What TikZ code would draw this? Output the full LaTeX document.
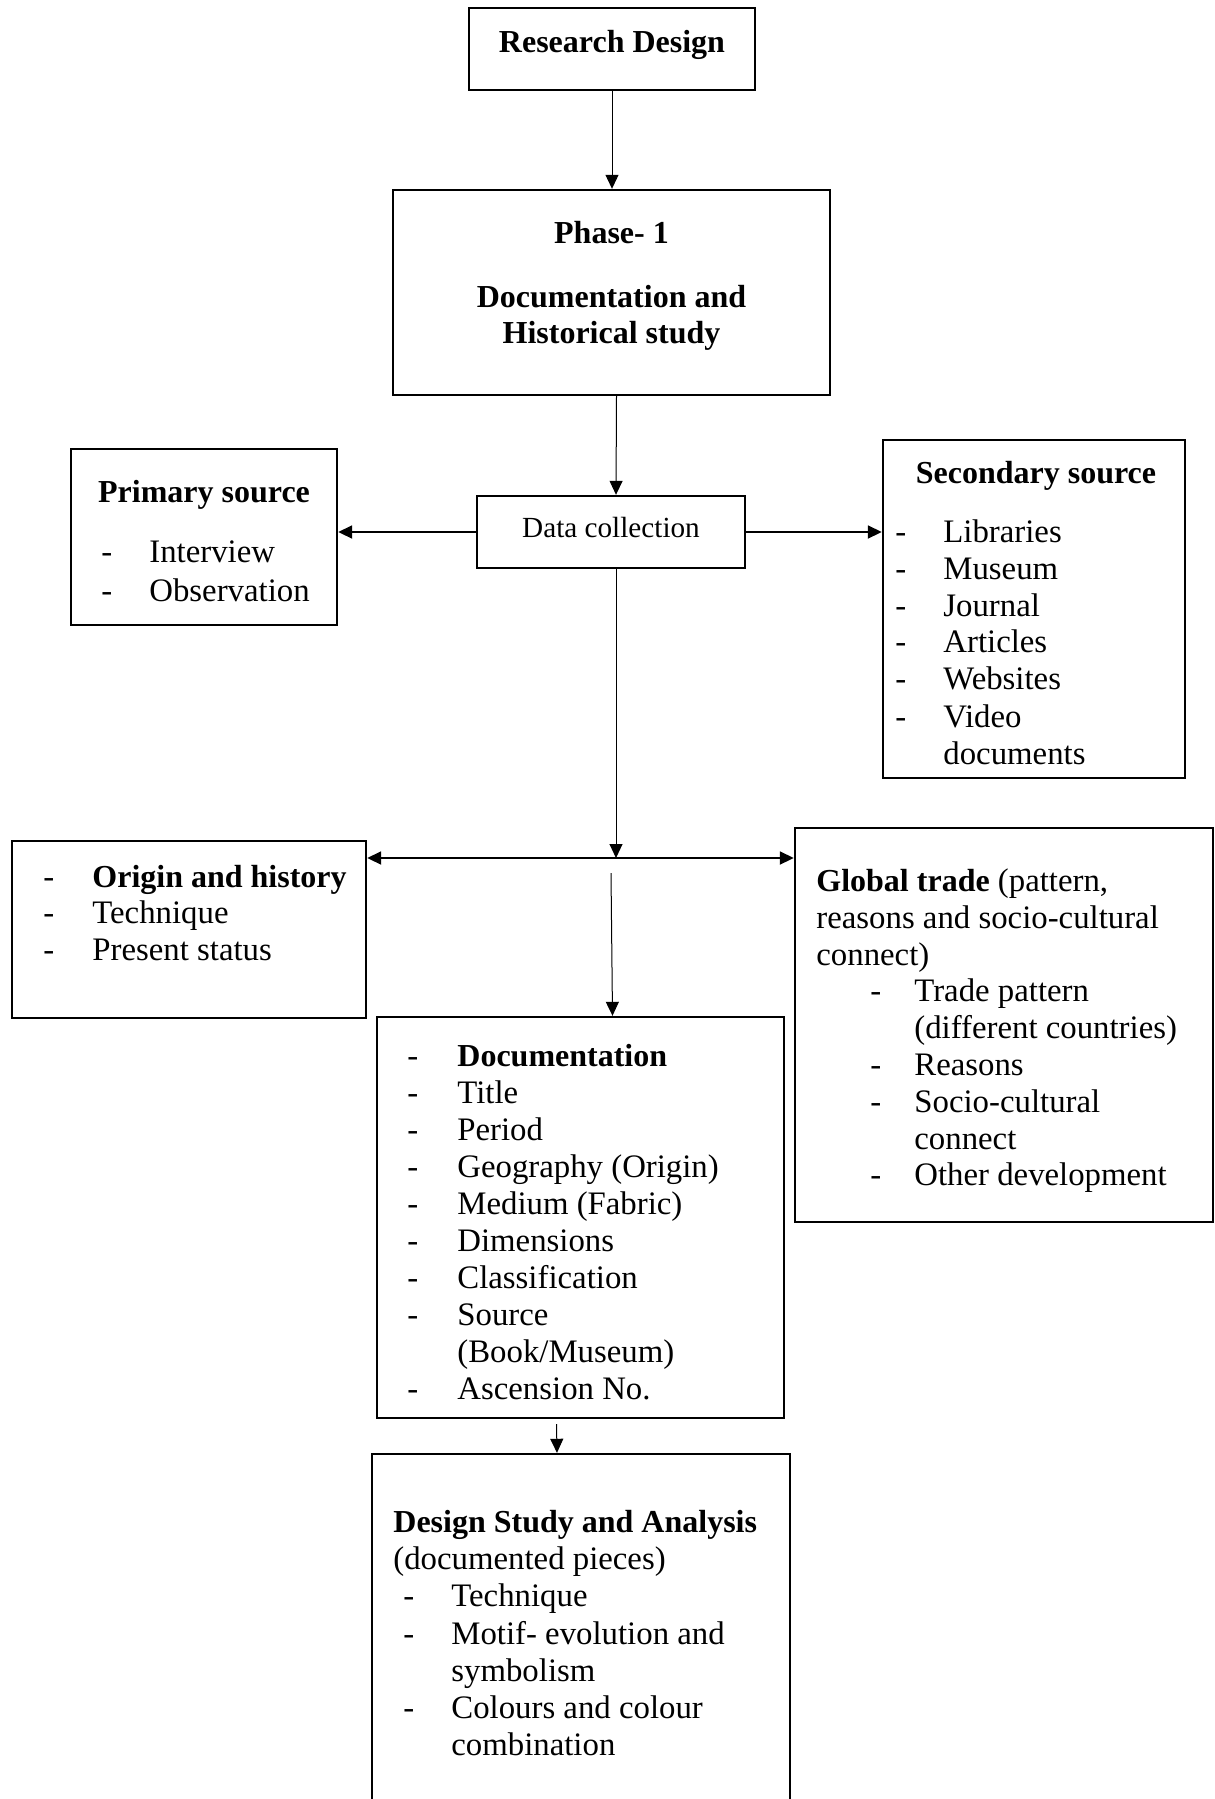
\documentclass[tikz,border=0pt]{standalone}
\usepackage{fontspec}
\setmainfont{Liberation Serif}
\usetikzlibrary{arrows.meta,fit}
\tikzset{
  box/.style={draw, line width=1.2pt, inner sep=0pt},
  txt/.style={inner sep=0pt, font=\fontsize{16.4}{18.2}\selectfont},
  lbl/.style={txt, anchor=base west},
  ctr/.style={txt, anchor=base},
  tip/.tip={Triangle[length=7pt,width=6.5pt]},
  arr/.style={line width=0.5pt, -tip},
  arrh/.style={line width=0.9pt, -tip},
  arrtwo/.style={line width=0.9pt, tip-tip}
}
\newcommand\bt[1]{{\fontsize{16}{18.2}\selectfont\bfseries #1}}
\newcommand\dashitem[5]{%
  \node[lbl] (#1d) at (#2,#4) {-};
  \node[lbl] (#1) at (#3,#4) {#5};}
\begin{document}
\begin{tikzpicture}[x=0.5pt,y=-0.5pt]
\fill[white] (0,0) rectangle (1215,1799);
\useasboundingbox (0,0) rectangle (1215,1799);

% boxes
\node[box, fit={(469,8)(755,90)}] (rd) {};
\node[box, fit={(393,190)(830,395)}] (ph) {};
\node[box, fit={(477,496)(745,568)}] (dc) {};
\node[box, fit={(71,449)(337,625)}] (prim) {};
\node[box, fit={(883,440)(1185,778)}] (sec) {};
\node[box, fit={(12,841)(366,1018)}] (orig) {};
\node[box, fit={(795,828)(1213,1222)}] (glob) {};
\node[box, fit={(377,1017)(784,1418)}] (doc) {};
\node[box, fit={(372,1454)(790,1840)}] (des) {};

% research design / phase
\node[ctr] (rdt) at (612,52) {\bt{Research Design}};
\node[ctr] (pht1) at (611.5,243) {\bt{Phase- 1}};
\node[ctr] (pht2) at (611.5,307) {\bt{Documentation and}};
\node[ctr] (pht3) at (611.5,343) {\bt{Historical study}};

% data collection
\node[ctr, font=\fontsize{14.6}{17}\selectfont] (dct) at (611,537) {Data collection};

% primary
\node[ctr] (primt) at (204,502) {\bt{Primary source}};
\dashitem{pr1}{101}{149}{562}{Interview}
\dashitem{pr2}{101}{149}{601}{Observation}

% secondary
\node[ctr] (sect) at (1036,483) {\bt{Secondary source}};
\dashitem{se1}{895}{943}{542}{Libraries}
\dashitem{se2}{895}{943}{579}{Museum}
\dashitem{se3}{895}{943}{616}{Journal}
\dashitem{se4}{895}{943}{652}{Articles}
\dashitem{se5}{895}{943}{689}{Websites}
\dashitem{se6}{895}{943}{727}{Video}
\node[lbl] (se7) at (943,764) {documents};

% origin
\dashitem{or1}{43}{92}{887}{\bt{Origin and history}}
\dashitem{or2}{43}{92}{923}{Technique}
\dashitem{or3}{43}{92}{960}{Present status}

% global trade
\node[lbl] (gl1) at (816,891) {\bt{Global trade} (pattern,};
\node[lbl] (gl2) at (816,928) {reasons and socio-cultural};
\node[lbl] (gl3) at (816,965) {connect)};
\dashitem{gl4}{870}{914}{1001}{Trade pattern}
\node[lbl] (gl5) at (914,1038) {(different countries)};
\dashitem{gl6}{870}{914}{1075}{Reasons}
\dashitem{gl7}{870}{914}{1112}{Socio-cultural}
\node[lbl] (gl8) at (914,1149) {connect};
\dashitem{gl9}{870}{914}{1185}{Other development}

% documentation
\dashitem{do1}{407}{457}{1066}{\bt{Documentation}}
\dashitem{do2}{407}{457}{1103}{Title}
\dashitem{do3}{407}{457}{1140}{Period}
\dashitem{do4}{407}{457}{1177}{Geography (Origin)}
\dashitem{do5}{407}{457}{1214}{Medium (Fabric)}
\dashitem{do6}{407}{457}{1251}{Dimensions}
\dashitem{do7}{407}{457}{1288}{Classification}
\dashitem{do8}{407}{457}{1325}{Source}
\node[lbl] (do9) at (457,1362) {(Book/Museum)};
\dashitem{do10}{407}{457}{1399}{Ascension No.}

% design study
\node[lbl] (ds1) at (393,1532) {\bt{Design Study and Analysis}};
\node[lbl] (ds2) at (393,1569) {(documented pieces)};
\dashitem{ds3}{403}{451}{1606}{Technique}
\dashitem{ds4}{403}{451}{1644}{Motif- evolution and}
\node[lbl] (ds5) at (451,1681) {symbolism};
\dashitem{ds6}{403}{451}{1718}{Colours and colour}
\node[lbl] (ds7) at (451,1755) {combination};

% connectors
\draw[arr] (rd.south) -- (rd.south |- ph.north);
\draw[arr] ([xshift=2.5pt]ph.south) -- ([xshift=2.5pt]dc.north);
\draw[arrh] (dc.west) -- (dc.west -| prim.east);
\draw[arrh] (dc.east) -- (dc.east -| sec.west);
\coordinate (jn) at (616,858);
\draw[arr] ([xshift=2.5pt]dc.south) -- (jn);
\draw[arrtwo] (jn -| orig.east) -- (jn -| glob.west);
\coordinate (st) at (611,873);
\draw[arr] (st) -- ([xshift=16pt]doc.north);
\draw[arr] ([xshift=-12pt,yshift=-2.5pt]doc.south) -- ([xshift=-12pt]des.north);
\end{tikzpicture}
\end{document}
